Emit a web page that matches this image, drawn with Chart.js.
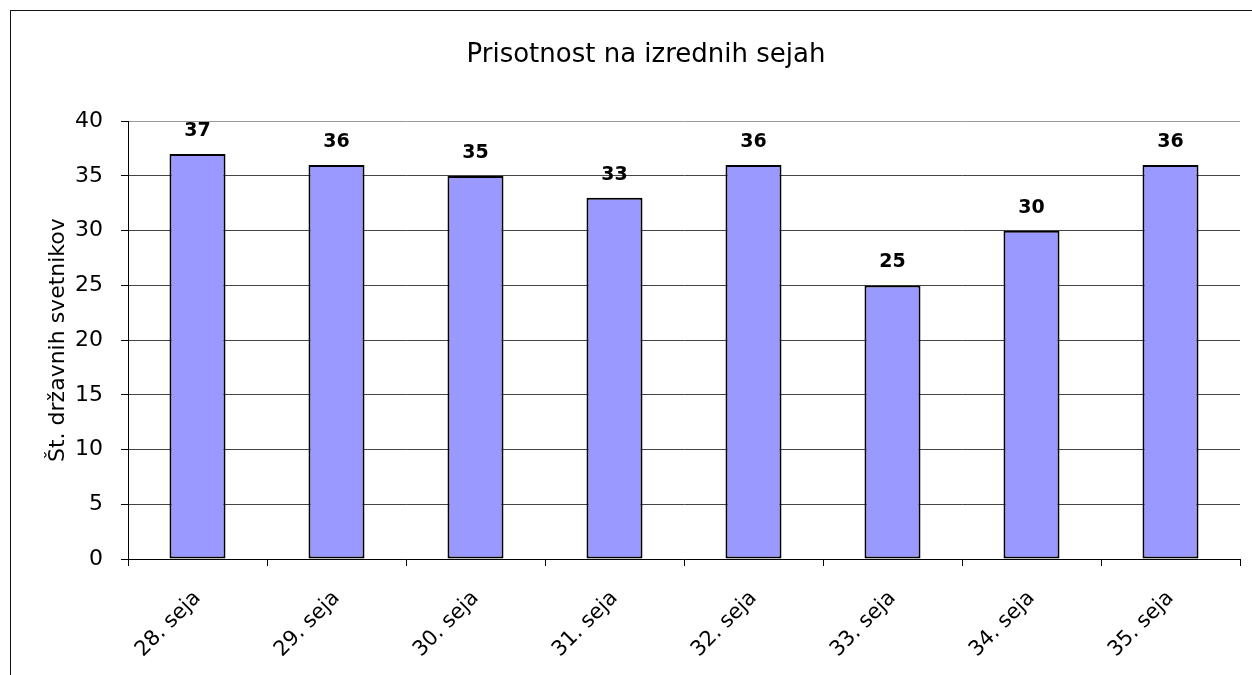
<!DOCTYPE html>
<html>
<head>
<meta charset="utf-8">
<script src="https://cdn.jsdelivr.net/npm/chart.js@4/dist/chart.umd.min.js"></script>
<style>
  html, body { margin: 0; padding: 0; background: #fff; overflow: hidden; }
  #frame { position: absolute; left: 10px; top: 10px; width: 1300px; height: 700px; border: 1px solid #111; }
  #c { position: absolute; left: 0; top: 0; }
</style>
</head>
<body>
<div id="frame"></div>
<canvas id="c" width="1252" height="675"></canvas>
<script>
const categories = ["28. seja", "29. seja", "30. seja", "31. seja", "32. seja", "33. seja", "34. seja", "35. seja"];
const attendance = [37, 36, 35, 33, 36, 25, 30, 36];
const yTicks = [0, 5, 10, 15, 20, 25, 30, 35, 40];
const chartTitle = "Prisotnost na izrednih sejah";
const yTitle = "Št. državnih svetnikov";

const FONT = "'DejaVu Sans', 'Liberation Sans', Arial, sans-serif";

const valueLabels = {
  id: 'valueLabels',
  afterDatasetsDraw(chart) {
    const ctx = chart.ctx;
    const meta = chart.getDatasetMeta(0);
    ctx.save();
    ctx.font = "bold 19px " + FONT;
    ctx.fillStyle = '#000';
    ctx.textAlign = 'center';
    ctx.textBaseline = 'alphabetic';
    meta.data.forEach((bar, i) => {
      ctx.fillText(String(chart.data.datasets[0].data[i]), bar.x, bar.y - 18);
    });
    ctx.restore();
  }
};

new Chart(document.getElementById('c'), {
  type: 'bar',
  data: {
    labels: categories,
    datasets: [{
      data: attendance,
      backgroundColor: '#9999FF',
      borderColor: '#000',
      borderWidth: 2,
      borderSkipped: false,
      barPercentage: 0.403,
      categoryPercentage: 1.0
    }]
  },
  options: {
    responsive: false,
    devicePixelRatio: 1,
    animation: false,
    layout: { padding: { left: 52, right: 12, top: 0, bottom: 0 } },
    plugins: {
      legend: { display: false },
      tooltip: { enabled: false },
      title: {
        display: true,
        text: chartTitle,
        color: '#000',
        font: { family: FONT, size: 26, weight: 'normal', lineHeight: 1.2 },
        padding: { top: 40, bottom: 50 }
      }
    },
    scales: {
      x: {
        grid: {
          offset: true,
          drawOnChartArea: true,
          color: (c) => (c.index === categories.length ? '#999' : 'rgba(0,0,0,0)'),
          tickColor: '#000',
          tickLength: 7,
          lineWidth: 1
        },
        border: { display: true, color: '#000', width: 1 },
        ticks: {
          color: '#000',
          font: { family: FONT, size: 21 },
          minRotation: 45,
          maxRotation: 45,
          padding: 20,
          autoSkip: false
        },
        afterFit: (s) => { s.height = 116; }
      },
      y: {
        min: 0,
        max: 40,
        afterBuildTicks: (s) => { s.ticks = yTicks.map(v => ({ value: v })); },
        grid: {
          color: (c) => (c.tick && c.tick.value === 40 ? '#999' : '#444'),
          tickColor: '#000',
          tickLength: 7,
          lineWidth: 1
        },
        border: { display: true, color: '#000', width: 1 },
        ticks: {
          color: '#000',
          font: { family: FONT, size: 22 },
          padding: 18
        },
        title: {
          display: true,
          text: yTitle,
          color: '#000',
          font: { family: FONT, size: 22, weight: 'normal', lineHeight: 0.6 },
          padding: { top: 0, bottom: 0 }
        },
        afterFit: (s) => { s.width = 76; }
      }
    }
  },
  plugins: [valueLabels]
});
</script>
</body>
</html>
